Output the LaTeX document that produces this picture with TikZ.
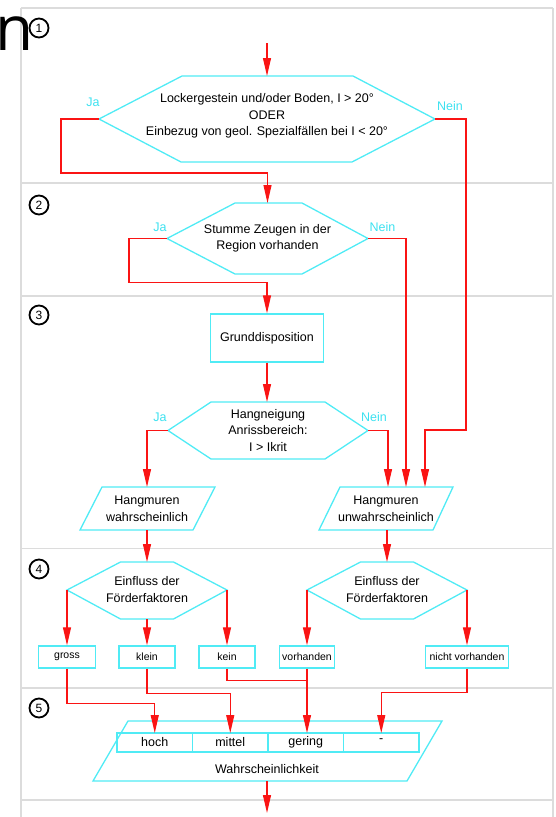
\documentclass[tikz,border=0pt]{standalone}
\usepackage{fontspec}
\setmainfont{Liberation Sans}
\newfontfamily\headfont{Open Sans}
\usetikzlibrary{arrows.meta}
\usetikzlibrary{positioning}
\definecolor{linecyan}{RGB}{80,235,245}
\definecolor{labelcyan}{RGB}{60,225,240}
\definecolor{flowred}{RGB}{250,20,20}
\definecolor{sectgray}{RGB}{220,220,220}

\begin{document}
\begin{tikzpicture}[x=1pt,y=-1pt,every node/.style={inner sep=0pt,align=center,font=\fontsize{12.5}{16.5}\selectfont},
  sectline/.style={draw=sectgray,line width=1.6pt},
  hexa/.style={draw=linecyan,line width=1.3pt},
  box/.style={draw=linecyan,line width=1.3pt},
  small/.style={box,minimum width=#1,minimum height=22pt,font=\fontsize{10.5}{12}\selectfont},
  cell/.style={box,minimum width=75.5pt,minimum height=19pt,outer sep=0pt},
  yes/.style={text=labelcyan},
  flow/.style={draw=flowred,line width=1.1pt,-{Triangle[length=18pt,width=8pt]}},
  wire/.style={draw=flowred,line width=1.1pt},
  num/.style={circle,draw,line width=1.8pt,minimum size=19pt,font=\fontsize{12}{12}\selectfont}]
  \useasboundingbox (0,0) rectangle (555,817);

  % sections
  \draw[sectline] (21,8) -- (553,8);
  \draw[sectline] (21,183) -- (553,183);
  \draw[sectline] (21,296) -- (553,296);
  \draw[sectline] (21,548.5) -- (553,548.5);
  \draw[sectline] (21,688) -- (553,688);
  \draw[sectline] (21,800) -- (553,800);
  \draw[sectline] (21,8) -- (21,817);
  \draw[sectline] (553,8) -- (553,817);
  \node[anchor=base west,font=\headfont\fontsize{62}{62}\selectfont] (ttl) at (-5,50) {n};
  \node[num] (s1) at (39,28) {1};
  \node[num] (s2) at (39,205) {2};
  \node[num] (s3) at (39,315) {3};
  \node[num] (s4) at (39,569) {4};
  \node[num] (s5) at (39,708) {5};

  % 1
  \coordinate (in) at (267,43);
  \node (h1) at (267,116) {Lockergestein und/oder Boden, I > 20°\\ODER\\Einbezug von geol. Spezialfällen bei I < 20°};
  \coordinate (h1w) at (99,119);
  \coordinate (h1e) at (435,119);
  \coordinate (h1n) at (267,76);
  \draw[hexa] (h1w) -- ++(83,-43) -- ++(171,0) -- (h1e) -- ++(-83,43) -- ++(-171,0) -- cycle;
  \node[yes] (ja1) at (93,102) {Ja};
  \node[yes] (nein1) at (450,106) {Nein};

  % 2
  \node (h2) at (267.5,238.5) {Stumme Zeugen in der\\Region vorhanden};
  \coordinate (h2w) at (167,238.5);
  \coordinate (h2e) at (368,238.5);
  \coordinate (h2n) at (267.5,203);
  \draw[hexa] (h2w) -- ++(68,-35.5) -- ++(67,0) -- (h2e) -- ++(-66,35.5) -- ++(-67,0) -- cycle;
  \node[yes] (ja2) at (160,227) {Ja};
  \node[yes] (nein2) at (382.5,227) {Nein};

  % 3
  \node[box,minimum width=113pt,minimum height=48pt] (gd) at (267,338) {Grunddisposition};
  \node (h3) at (268,430.5) {Hangneigung\\Anrissbereich:\\I > Ikrit};
  \coordinate (h3w) at (168,430.5);
  \coordinate (h3e) at (368,430.5);
  \coordinate (h3n) at (267,402);
  \draw[hexa] (h3w) -- ++(43,-28.5) -- ++(114,0) -- (h3e) -- ++(-43,28.5) -- ++(-114,0) -- cycle;
  \node[yes] (ja3) at (160,417) {Ja};
  \node[yes] (nein3) at (374,417) {Nein};

  \node (p1) at (147,509) {Hangmuren\\wahrscheinlich};
  \draw[box] (102,487) -- (215,487) -- (193,530) -- (80,530) -- cycle;
  \coordinate (p1n) at (147,487);
  \coordinate (p1s) at (147,530);
  \node (p2) at (386,509) {Hangmuren\\unwahrscheinlich};
  \draw[box] (340,487) -- (453,487) -- (433,530) -- (319,530) -- cycle;
  \coordinate (p2a) at (388,487);
  \coordinate (p2b) at (406,487);
  \coordinate (p2c) at (425,487);
  \coordinate (p2s) at (387,530);

  % 4
  \node (h4a) at (147,589.5) {Einfluss der\\Förderfaktoren};
  \coordinate (h4aw) at (67,590);
  \coordinate (h4ae) at (227,590);
  \coordinate (h4an) at (147,562);
  \coordinate (h4as) at (147,619);
  \draw[hexa] (h4aw) -- ++(53.5,-28) -- ++(53,0) -- (h4ae) -- ++(-53.5,29) -- ++(-53,0) -- cycle;
  \node (h4b) at (387,589.5) {Einfluss der\\Förderfaktoren};
  \coordinate (h4bw) at (307,590);
  \coordinate (h4be) at (467,590);
  \coordinate (h4bn) at (387,562);
  \draw[hexa] (h4bw) -- ++(53.5,-28) -- ++(53,0) -- (h4be) -- ++(-53.5,29) -- ++(-53,0) -- cycle;

  \node[small=57pt] (gross) at (67,657) {gross};
  \node[small=56pt] (klein) at (147,657) {klein};
  \node[small=56pt] (kein) at (227,657) {kein};
  \node[small=55pt] (vorh) at (307,657) {vorhanden};
  \node[small=83pt] (nvorh) at (467,657) {nicht vorhanden};

  % 5
  \draw[box] (128,721) -- (442,721) -- (407,781) -- (93,781) -- cycle;
  \node[cell] (c1) at (154.75,742.5) {hoch};
  \node[cell,right=0pt of c1] (c2) {mittel};
  \node[cell,right=0pt of c2] (c3) {gering};
  \node[cell,right=0pt of c3] (c4) {\raisebox{4pt}{-}};
  \node (wk) at (267,769) {Wahrscheinlichkeit};
  \coordinate (wks) at (267,781);
  \coordinate (out) at (267,813);

  % connectors
  \draw[flow] (in) -- (h1n);
  \draw[flow] (h1w) -| ++(-38,54) -| (h2n);
  \draw[flow] (h1e) -| ++(31,311) -| (p2c);
  \draw[flow] (h2w) -| ++(-38,44) -| (gd.north);
  \draw[flow] (h2e) -| (p2b);
  \draw[flow] (gd.south) -- (h3n);
  \draw[flow] (h3w) -| (p1n);
  \draw[flow] (h3e) -| (p2a);
  \draw[flow] (p1s) -- (h4an);
  \draw[flow] (p2s) -- (h4bn);
  \draw[flow] (h4aw) -- (gross.north);
  \draw[flow] (h4as) -- (klein.north);
  \draw[flow] (h4ae) -- (kein.north);
  \draw[flow] (h4bw) -- (vorh.north);
  \draw[flow] (h4be) -- (nvorh.north);
  \draw[flow] (gross.south) -- ++(0,35) -| (c1.north);
  \draw[flow] (klein.south) -- ++(0,25) -| (c2.north);
  \draw[wire] (kein.south) -- ++(0,12) -| (vorh.south);
  \draw[flow] (vorh.south) -- (vorh.south |- c3.north);
  \draw[flow] (nvorh.south) -- ++(0,24) -| (c4.north);
  \draw[flow] (wks) -- (out);
\end{tikzpicture}
\end{document}
